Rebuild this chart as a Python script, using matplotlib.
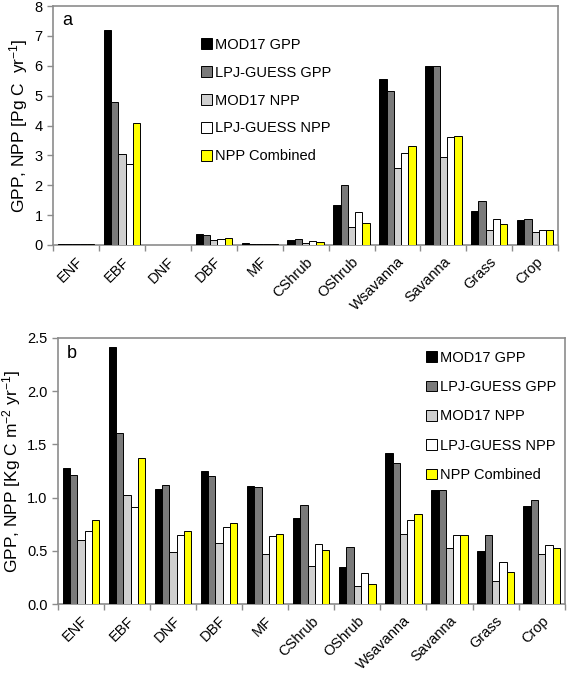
import numpy as np
import matplotlib
matplotlib.use("Agg")
import matplotlib.pyplot as plt

plt.rcParams['font.family'] = ['Liberation Sans', 'DejaVu Sans']
plt.rcParams['mathtext.default'] = 'regular'

# biome classes
categories = ['ENF', 'EBF', 'DNF', 'DBF', 'MF', 'CShrub', 'OShrub',
              'Wsavanna', 'Savanna', 'Grass', 'Crop']
series_names = ['MOD17 GPP', 'LPJ-GUESS GPP', 'MOD17 NPP', 'LPJ-GUESS NPP', 'NPP Combined']

# panel a: totals [Pg C yr-1]
tot_mod_gpp = [0.04, 7.2, 0.0, 0.38, 0.05, 0.18, 1.33, 5.55, 5.99, 1.15, 0.85]
tot_lpj_gpp = [0.03, 4.8, 0.0, 0.35, 0.04, 0.19, 2.01, 5.17, 6.0, 1.47, 0.88]
tot_mod_npp = [0.02, 3.04, 0.0, 0.18, 0.02, 0.08, 0.61, 2.57, 2.95, 0.50, 0.42]
tot_lpj_npp = [0.02, 2.71, 0.0, 0.21, 0.02, 0.12, 1.09, 3.08, 3.63, 0.88, 0.51]
tot_comb_npp = [0.02, 4.09, 0.0, 0.22, 0.02, 0.10, 0.74, 3.31, 3.65, 0.69, 0.49]

# panel b: per area [Kg C m-2 yr-1]
dens_mod_gpp = [1.28, 2.41, 1.08, 1.25, 1.11, 0.81, 0.35, 1.42, 1.07, 0.50, 0.92]
dens_lpj_gpp = [1.21, 1.61, 1.12, 1.20, 1.10, 0.93, 0.54, 1.32, 1.07, 0.65, 0.98]
dens_mod_npp = [0.60, 1.02, 0.49, 0.57, 0.47, 0.36, 0.17, 0.66, 0.53, 0.22, 0.47]
dens_lpj_npp = [0.69, 0.91, 0.65, 0.72, 0.64, 0.56, 0.29, 0.79, 0.65, 0.39, 0.55]
dens_comb_npp = [0.79, 1.37, 0.69, 0.76, 0.66, 0.51, 0.19, 0.85, 0.65, 0.30, 0.53]

colors = ['#000000', '#7a7a7a', '#cfcfcf', '#ffffff', '#ffff00']
spine_col = '#8c8c8c'


def draw_panel(ax, data, ylim, yticks, ylabel, ylabel_size, tag, fmt):
    x = np.arange(len(categories))
    w = 0.158
    for i, vals in enumerate(data):
        ax.bar(x + (i - 2) * w, vals, width=w, color=colors[i],
               edgecolor='black', linewidth=0.7, label=series_names[i], zorder=3)
    ax.set_xlim(-0.5, len(categories) - 0.5)
    ax.set_ylim(*ylim)
    ax.set_yticks(yticks)
    ax.set_yticklabels([fmt.format(t) for t in yticks], fontsize=10.5)
    # tick marks on class boundaries, labels at class centres
    ax.set_xticks(np.arange(len(categories) + 1) - 0.5)
    ax.set_xticklabels([])
    ax.set_xticks(x, minor=True)
    ax.set_xticklabels(categories, minor=True, rotation=45, ha='right',
                       rotation_mode='anchor', fontsize=10.5)
    ax.tick_params(axis='x', which='minor', length=0, pad=7)
    ax.tick_params(axis='x', which='major', length=4, color=spine_col, width=1)
    ax.tick_params(axis='y', length=4, color=spine_col, width=1)
    for s in ax.spines.values():
        s.set_color(spine_col)
        s.set_linewidth(1.2)
    ax.set_ylabel(ylabel, fontsize=ylabel_size, labelpad=3)
    ax.text(0.018, 0.975, tag, transform=ax.transAxes, fontsize=13,
            va='top', ha='left')


fig = plt.figure(figsize=(5.67, 6.73), dpi=100)
ax1 = fig.add_axes([0.0935, 0.636, 0.891, 0.355])
ax2 = fig.add_axes([0.102, 0.1025, 0.894, 0.3955])

draw_panel(ax1, [tot_mod_gpp, tot_lpj_gpp, tot_mod_npp, tot_lpj_npp, tot_comb_npp],
           (0, 8), range(0, 9), 'GPP, NPP [Pg C  yr$^{-1}$]', 12.5, 'a', '{:d}')
draw_panel(ax2, [dens_mod_gpp, dens_lpj_gpp, dens_mod_npp, dens_lpj_npp, dens_comb_npp],
           (0, 2.5), [0, 0.5, 1.0, 1.5, 2.0, 2.5], 'GPP, NPP [Kg C m$^{-2}$ yr$^{-1}$]',
           12.5, 'b', '{:.1f}')

leg_kw = dict(frameon=False, fontsize=10.5, handlelength=0.75, handleheight=0.75,
              handletextpad=0.2, borderaxespad=0, loc='upper left')
ax1.legend(bbox_to_anchor=(195 / 567, 1 - 32 / 673), bbox_transform=fig.transFigure,
           labelspacing=0.95, **leg_kw)
ax2.legend(bbox_to_anchor=(420 / 567, 1 - 345 / 673), bbox_transform=fig.transFigure,
           labelspacing=1.05, **leg_kw)

fig.savefig('out.png', dpi=100)
